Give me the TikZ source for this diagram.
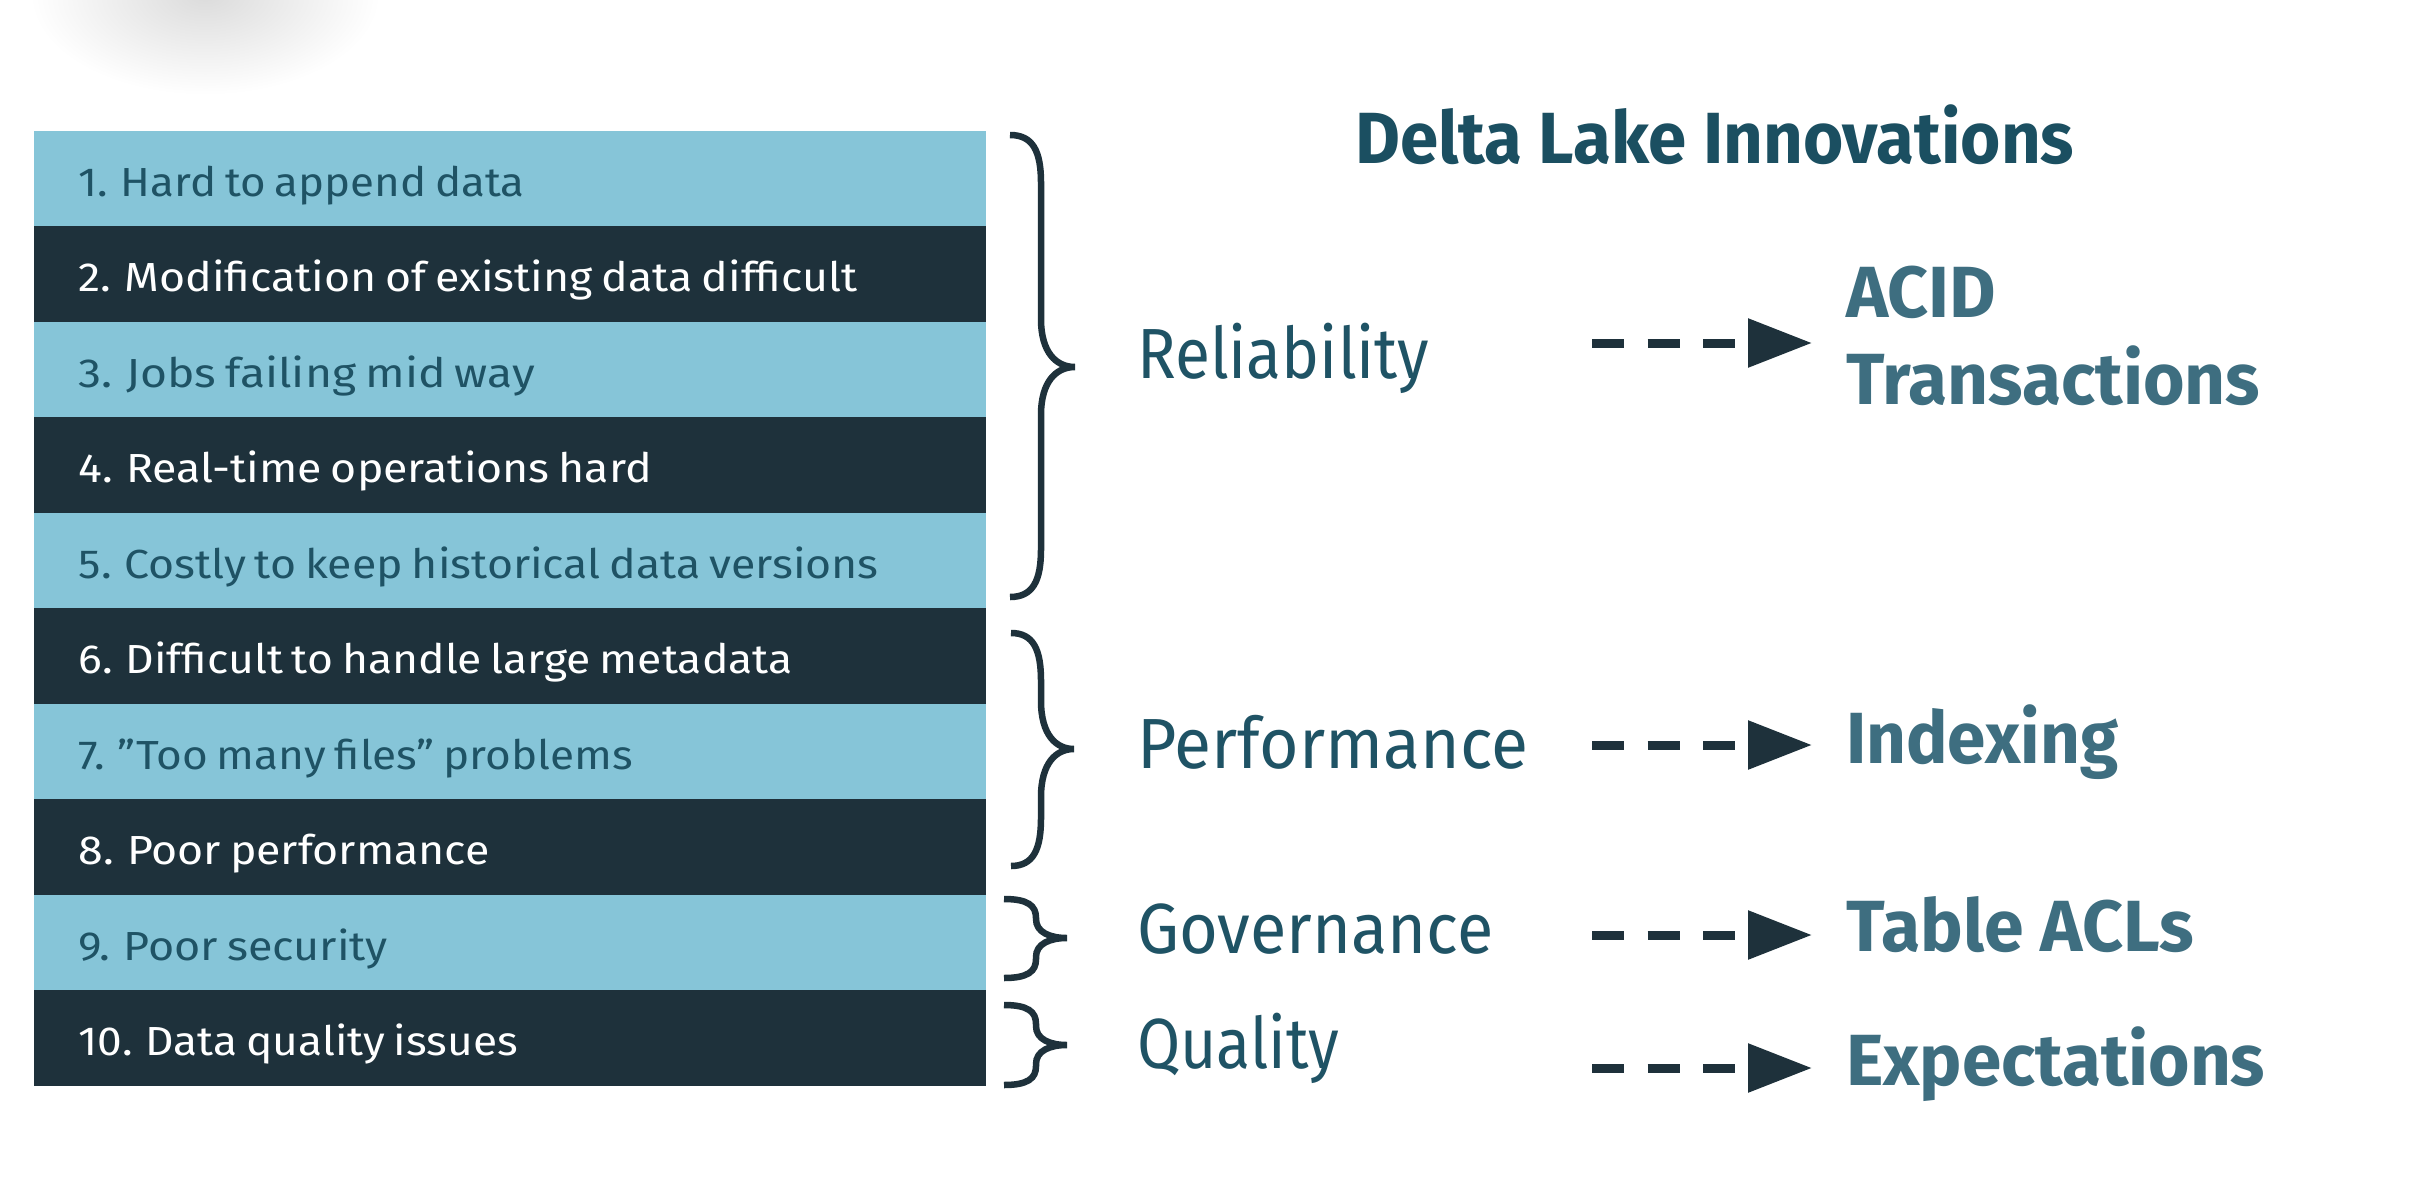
\documentclass[tikz,border=0pt]{standalone}
\usepackage{fontspec}
\setmainfont{Fira Sans}[Numbers=Proportional]
\usetikzlibrary{arrows.meta,calc}
\definecolor{rowlight}{HTML}{86C5D8}
\definecolor{darkc}{HTML}{1E313B}
\definecolor{tealtext}{HTML}{1F5365}
\definecolor{titlec}{HTML}{1B4F61}
\definecolor{rightc}{HTML}{3E6E80}
\newsavebox\fitbox
\newcommand\fitw[2]{\sbox\fitbox{#2}\pgfmathsetmacro\fitr{#1/\wd\fitbox}\scalebox{\fitr}[1]{\usebox\fitbox}}
\newcommand\bracedraw[7]{% x0 x1 xt ytop ytip ybot h
  \draw[bracestyle] (#1,#4) .. controls ({#1+0.75*(#2-#1)},#4) and (#2,{#4+0.35*#7}) .. (#2,{#4+#7})
    -- (#2,{#5-#7}) .. controls (#2,{#5-0.3*#7}) and ({#3-0.55*(#3-#2)},#5) .. (#3,#5)
    .. controls ({#3-0.55*(#3-#2)},#5) and (#2,{#5+0.3*#7}) .. (#2,{#5+#7})
    -- (#2,{#6-#7}) .. controls (#2,{#6-0.35*#7}) and ({#1+0.75*(#2-#1)},#6) .. (#1,#6);}
\tikzset{
  rowbox/.style={anchor=north west, minimum width=952pt, minimum height=95.5pt, inner sep=0pt, draw=none},
  rowtext/.style={anchor=base west, inner sep=0pt, font=\fontsize{40.6}{48}\selectfont},
  labeltext/.style={anchor=base west, inner sep=0pt, text=tealtext, font=\fontsize{71}{80}\selectfont},
  righttext/.style={anchor=base west, inner sep=0pt, text=rightc, font=\fontsize{72.5}{80}\selectfont\bfseries},
  bracestyle/.style={draw=darkc, line width=6.5pt},
  dasharrow/.style={draw=darkc, line width=9pt, dash pattern=on 32pt off 23.5pt, -{Triangle[length=64pt,width=47pt]}}
}
\begin{document}
\begin{tikzpicture}[x=1pt,y=-1pt]
\useasboundingbox (0,0) rectangle (2434,1178);
\fill[white] (0,0) rectangle (2434,1178);
\shade[inner color=black!14, outer color=white] (205,-5) ellipse [x radius=175, y radius=100];
\foreach \i/\t/\w in {1/1. Hard to append data/446,
  2/2. Modification of existing data difficult/779,
  3/3. Jobs failing mid way/456,
  4/4. Real-time operations hard/573,
  5/5. Costly to keep historical data versions/800,
  6/6. Difficult to handle large metadata/714,
  7/7. ”Too many files” problems/554,
  8/8. Poor performance/411,
  9/9. Poor security/309,
  10/10. Data quality issues/439}{
  \ifodd\i \def\fc{rowlight}\def\tc{tealtext}\else\def\fc{darkc}\def\tc{white}\fi
  \node[rowbox, fill=\fc] (r\i) at (34,{130.5+(\i-1)*95.5}) {};
  \node[rowtext, text=\tc] (t\i) at ($(r\i.north west)+(44.6,65.6)$) {\fitw{\w}{\spaceskip=0.2em plus 0.1em minus 0.05em\relax\t}};
}
\bracedraw{1010}{1041}{1075}{135}{367}{597}{48}
\bracedraw{1011}{1041}{1074}{633}{749}{866}{48}
\bracedraw{1004}{1036}{1067}{899}{938}{978}{19}
\bracedraw{1004}{1036}{1067}{1005}{1045}{1085}{19}
\node[righttext, text=titlec] (title) at (1355,163) {\fitw{719}{Delta Lake Innovations}};
\node[labeltext] (lrel) at (1137,378) {\fitw{292}{Reliability}};
\node[labeltext] (lperf) at (1137,768) {\fitw{391}{Performance}};
\node[labeltext] (lgov) at (1137,953) {\fitw{356}{Governance}};
\node[labeltext] (lqual) at (1137,1068) {\fitw{202}{Quality}};
\node[righttext] (tacid) at (1846,317) {\fitw{150}{ACID}};
\node[righttext] (ttrans) at (1846,404) {\fitw{414}{Transactions}};
\node[righttext] (tidx) at (1846,763) {\fitw{272}{Indexing}};
\node[righttext] (ttbl) at (1846,951) {\fitw{347.5}{Table ACLs}};
\node[righttext] (texp) at (1846,1085) {\fitw{419}{Expectations}};
\coordinate (a1s) at (1592,343); \coordinate (a1e) at (1812,343);
\coordinate (a2s) at (1592,745); \coordinate (a2e) at (1812,745);
\coordinate (a3s) at (1592,935); \coordinate (a3e) at (1812,935);
\coordinate (a4s) at (1592,1068); \coordinate (a4e) at (1812,1068);
\draw[dasharrow] (a1s) -- (a1e);
\draw[dasharrow] (a2s) -- (a2e);
\draw[dasharrow] (a3s) -- (a3e);
\draw[dasharrow] (a4s) -- (a4e);
\end{tikzpicture}
\end{document}
